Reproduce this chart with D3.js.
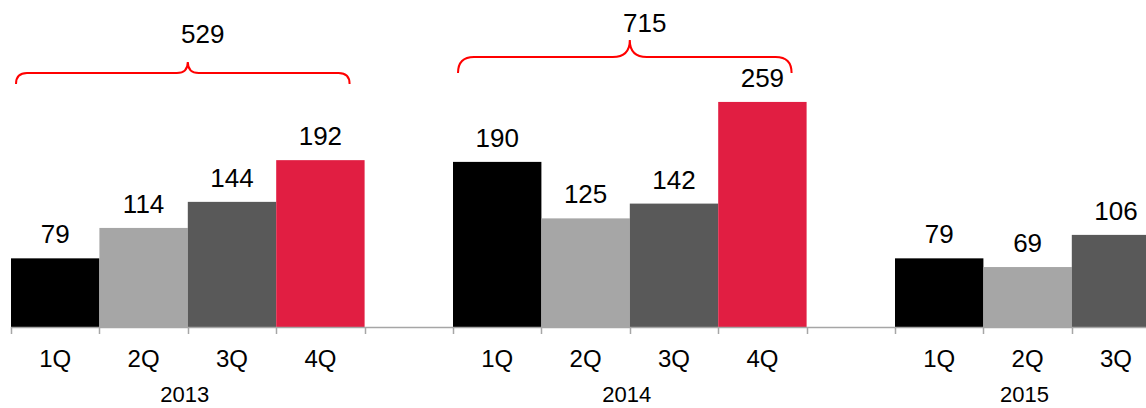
<!DOCTYPE html>
<html>
<head>
<meta charset="utf-8">
<script src="https://cdn.jsdelivr.net/npm/d3@7"></script>
<style>
  html, body { margin: 0; padding: 0; background: #ffffff; }
  svg { display: block; font-family: "Liberation Sans", Arial, sans-serif; }
</style>
</head>
<body>
<svg id="chart" width="1146" height="408"></svg>
<script>
// Quarterly figures by year
const years = ["2013", "2014", "2015"];
const quarters = ["1Q", "2Q", "3Q", "4Q"];
const values2013 = [79, 114, 144, 192];
const values2014 = [190, 125, 142, 259];
const values2015 = [79, 69, 106];
const seriesByYear = [values2013, values2014, values2015];

// Full-year totals shown above braces
const totalYears = ["2013", "2014"];
const totalValues = [529, 715];

const quarterColors = ["#000000", "#a6a6a6", "#595959", "#e11e42"];

// Layout
const W = 1146, H = 408;
const baseY = 327;
const slotStart = 11, slotWidth = 88.4;
const braceLevels = { "2013": { line: 73, end: 84, tip: 62, label: 43 },
                      "2014": { line: 57, end: 73, tip: 40, label: 32 } };

// Build slot list: quarters of each year followed by one empty spacer slot
const slots = [];
const bars = [];
years.forEach((yr, yi) => {
  seriesByYear[yi].forEach((v, qi) => {
    const key = yr + "-" + quarters[qi];
    slots.push(key);
    bars.push({ key, year: yr, q: quarters[qi], qi, value: v });
  });
  if (yi < years.length - 1) slots.push("gap-" + yr);
});

const x = d3.scaleBand()
  .domain(slots)
  .range([slotStart, slotStart + slots.length * slotWidth])
  .padding(0);

const y = d3.scaleLinear().domain([0, 300]).range([baseY, baseY - 300 * 0.869]);

const svg = d3.select("#chart");

// Bars
svg.append("g").selectAll("rect").data(bars).join("rect")
  .attr("x", d => x(d.key))
  .attr("y", d => y(d.value))
  .attr("width", x.bandwidth())
  .attr("height", d => y(0) - y(d.value))
  .attr("fill", d => quarterColors[d.qi]);

// Value labels
svg.append("g").selectAll("text").data(bars).join("text")
  .attr("x", d => x(d.key) + x.bandwidth() / 2)
  .attr("y", d => y(d.value) - 15)
  .attr("text-anchor", "middle")
  .attr("font-size", 26)
  .attr("fill", "#000")
  .text(d => d.value);

// Category axis: baseline with ticks at slot boundaries
const axisG = svg.append("g").attr("transform", `translate(0,${baseY})`);
const axis = d3.axisBottom(x).tickSize(0).tickFormat("");
axisG.call(axis);
axisG.select(".domain").remove();
axisG.append("line")
  .attr("x1", slotStart).attr("x2", W)
  .attr("y1", 0.5).attr("y2", 0.5)
  .attr("stroke", "#a6a6a6").attr("stroke-width", 1.5);
axisG.selectAll(".sep").data(slots).join("line")
  .attr("class", "sep")
  .attr("x1", d => Math.round(x(d)) + 0.5).attr("x2", d => Math.round(x(d)) + 0.5)
  .attr("y1", 0).attr("y2", 7)
  .attr("stroke", "#a6a6a6").attr("stroke-width", 1.5);

// Quarter labels
svg.append("g").selectAll("text").data(bars).join("text")
  .attr("x", d => x(d.key) + x.bandwidth() / 2)
  .attr("y", 367)
  .attr("text-anchor", "middle")
  .attr("font-size", 24)
  .attr("fill", "#000")
  .text(d => d.q);

// Year labels centered under each group
const groupSpan = yr => {
  const ks = bars.filter(b => b.year === yr).map(b => b.key);
  const x0 = x(ks[0]);
  const x1 = x(ks[ks.length - 1]) + x.bandwidth();
  return [x0, x1];
};
svg.append("g").selectAll("text").data(years).join("text")
  .attr("x", d => { const s = groupSpan(d); return (s[0] + s[1]) / 2 - 3; })
  .attr("y", 402)
  .attr("text-anchor", "middle")
  .attr("font-size", 22)
  .attr("fill", "#000")
  .text(d => d);

// Curly braces with yearly totals
function bracePath(x0, x1, mid, lv) {
  const r1 = lv.end - lv.line;
  const r2 = lv.line - lv.tip;
  return `M${x0},${lv.end}` +
    ` Q${x0},${lv.line} ${x0 + r1},${lv.line}` +
    ` L${mid - r2},${lv.line}` +
    ` Q${mid},${lv.line} ${mid},${lv.tip}` +
    ` Q${mid},${lv.line} ${mid + r2},${lv.line}` +
    ` L${x1 - r1},${lv.line}` +
    ` Q${x1},${lv.line} ${x1},${lv.end}`;
}
totalYears.forEach((yr, i) => {
  const s = groupSpan(yr);
  const x0 = s[0] + 5, x1 = s[1] - 15;
  const mid = (s[0] + s[1]) / 2;
  const lv = braceLevels[yr];
  svg.append("path")
    .attr("d", bracePath(x0, x1, mid, lv))
    .attr("fill", "none")
    .attr("stroke", "#ff0000")
    .attr("stroke-width", 2);
  svg.append("text")
    .attr("x", mid + 15)
    .attr("y", lv.label)
    .attr("text-anchor", "middle")
    .attr("font-size", 26)
    .attr("fill", "#000")
    .text(totalValues[i]);
});
</script>
</body>
</html>
